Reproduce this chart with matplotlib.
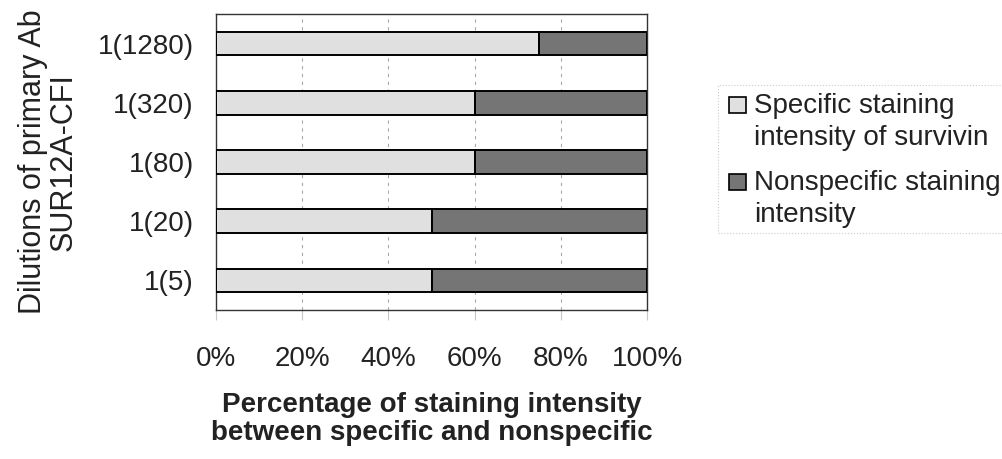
import numpy as np
import matplotlib.pyplot as plt
from matplotlib.patches import Rectangle

plt.rcParams['font.family'] = ['Liberation Sans', 'DejaVu Sans']

# Data
dilutions = ['1(5)', '1(20)', '1(80)', '1(320)', '1(1280)']
specific = [50, 50, 60, 60, 75]
nonspecific = [50, 50, 40, 40, 25]
xticks = [0, 20, 40, 60, 80, 100]
xticklabels = ['0%', '20%', '40%', '60%', '80%', '100%']
legend_labels = [['Specific staining', 'intensity of survivin'],
                 ['Nonspecific staining', 'intensity']]

W, H = 1002, 459
light, dark = '#e0e0e0', '#757575'

fig = plt.figure(figsize=(W / 100, H / 100), dpi=100)
ax = fig.add_axes([216 / W, 1 - 310 / H, 431 / W, 296 / H])

y = np.arange(len(dilutions))
ax.barh(y, specific, height=0.4, color=light, edgecolor='black',
        linewidth=1.4, zorder=3)
ax.barh(y, nonspecific, left=specific, height=0.4, color=dark,
        edgecolor='black', linewidth=1.4, zorder=3)

ax.set_xlim(0, 100)
ax.set_ylim(-0.5, len(dilutions) - 0.5)
ax.set_xticks(xticks)
ax.set_xticklabels(xticklabels, fontsize=20, color='#222222')
ax.set_yticks(y)
ax.set_yticklabels(dilutions, fontsize=20, color='#222222')
ax.tick_params(axis='x', length=7, color='#c8c8c8', width=0.8, pad=19)
ax.tick_params(axis='y', length=0, pad=16)
ax.grid(axis='x', linestyle=(0, (3, 4)), color='#aaaaaa', linewidth=0.8, zorder=0)
for s in ax.spines.values():
    s.set_color('#333333')
    s.set_linewidth(1.0)

ax.set_xlabel('Percentage of staining intensity\nbetween specific and nonspecific',
              fontsize=20, fontweight='bold', color='#222222', labelpad=14,
              linespacing=1.1)
ax.set_ylabel('Dilutions of primary Ab\nSUR12A-CFI', fontsize=22,
              labelpad=14, linespacing=1.0, color='#222222')

# Legend drawn by hand: marker square aligned with first line of each entry
fig.patches.append(Rectangle((718 / W, 1 - 233 / H), 300 / W, 148 / H,
                             transform=fig.transFigure, fill=False,
                             edgecolor='#cccccc', linestyle=':', linewidth=0.8))
baselines = [[113, 145], [190, 222]]
for colour, lines, bl in zip([light, dark], legend_labels, baselines):
    fig.patches.append(Rectangle((729 / W, 1 - bl[0] / H), 17 / W, 16 / H,
                                 transform=fig.transFigure, facecolor=colour,
                                 edgecolor='black', linewidth=1.2))
    for text, b in zip(lines, bl):
        fig.text(754 / W, 1 - b / H, text, fontsize=20, color='#222222',
                 va='baseline', ha='left')

fig.savefig('out.png', dpi=100)
